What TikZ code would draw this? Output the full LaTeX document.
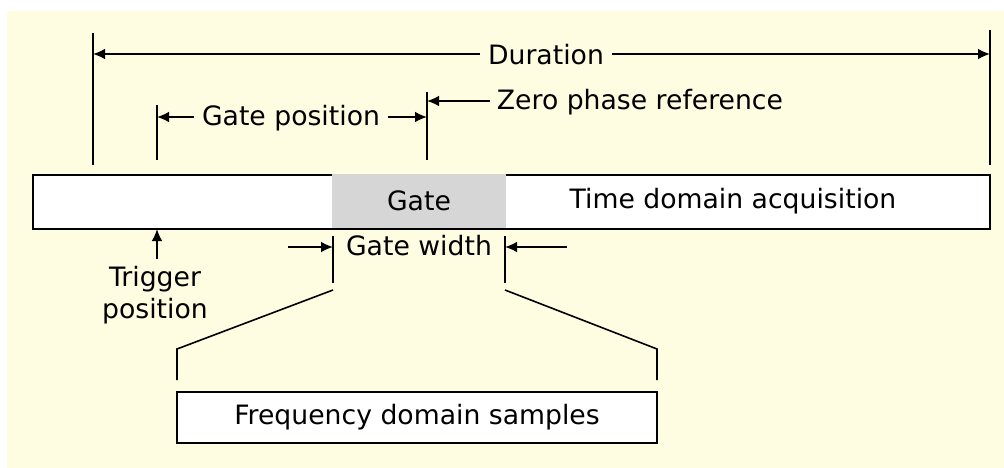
\documentclass[tikz,border=0pt]{standalone}
\usepackage{fontspec}
\setmainfont{DejaVu Sans}
\usetikzlibrary{arrows.meta}
\definecolor{cream}{RGB}{255,253,225}
\definecolor{gategray}{RGB}{214,214,214}
\begin{document}
\begin{tikzpicture}[x=0.75pt,y=-0.75pt,
  ln/.style={line width=1.2pt,black},
  dim/.style={ln,-{Latex[length=9pt,width=8pt]}},
  lbl/.style={inner sep=2pt,font=\fontsize{20}{24}\selectfont},
  boxed/.style={draw,line width=1.3pt,inner sep=0pt}]
\useasboundingbox (0,0) rectangle (1004,468);
\fill[cream] (7,11) rectangle (1004,468);
% main bar
\node[boxed,fill=white,minimum width=957*0.75pt,minimum height=54*0.75pt] (bar) at (511.5,202) {};
\fill[gategray] (332,174) rectangle (506,227.5);
\node[lbl] (gate) at (419,201) {Gate};
\node[lbl] (tda) at (733,201) {Time domain acquisition};
% extension lines
\coordinate (dL0) at (93,33); \coordinate (dL1) at (93,165);
\coordinate (dR0) at (990,30); \coordinate (dR1) at (990,165);
\coordinate (gp0) at (157,105); \coordinate (gp1) at (157,160);
\coordinate (zp0) at (427,92); \coordinate (zp1) at (427,160);
\draw[ln] (dL0) -- (dL1);
\draw[ln] (dR0) -- (dR1);
\draw[ln] (gp0) -- (gp1);
\draw[ln] (zp0) -- (zp1);
% Duration
\node[lbl,inner sep=6pt] (dur) at (546,55) {Duration};
\coordinate (durL) at (93,54); \coordinate (durR) at (990,54);
\draw[dim] (dur.west |- durL) -- (durL);
\draw[dim] (dur.east |- durR) -- (durR);
% Gate position
\node[lbl,inner sep=6pt] (gpos) at (291,118) {Gate position};
\coordinate (gpL) at (157,117); \coordinate (gpR) at (427,117);
\draw[dim] (gpos.west |- gpL) -- (gpL);
\draw[dim] (gpos.east |- gpR) -- (gpR);
% Zero phase reference
\node[lbl,anchor=west,inner sep=5pt] (zpr) at (490,102) {Zero phase reference};
\coordinate (zpL) at (427,101);
\draw[dim] (zpr.west |- zpL) -- (zpL);
% Trigger
\node[lbl,align=center,font=\fontsize{20}{23.5}\selectfont] (trig) at (155,295) {Trigger\\position};
\coordinate (trigT) at (157,229); \coordinate (trigB) at (157,259);
\draw[dim] (trigB) -- (trigT);
% Gate width
\node[lbl] (gw) at (419,246) {Gate width};
\coordinate (gwL0) at (288,247); \coordinate (gwL) at (333,247);
\coordinate (gwR0) at (567,247); \coordinate (gwR) at (505,247);
\draw[dim] (gwL0) -- (gwL);
\draw[dim] (gwR0) -- (gwR);
\coordinate (gwa0) at (333,236); \coordinate (gwa1) at (333,283);
\coordinate (gwb0) at (505,236); \coordinate (gwb1) at (505,283);
\draw[ln] (gwa0) -- (gwa1);
\draw[ln] (gwb0) -- (gwb1);
% Frequency domain box
\node[boxed,fill=white,minimum width=480*0.75pt,minimum height=51*0.75pt] (fds) at (417,417.5) {};
\node[lbl] (fdst) at (417,417) {Frequency domain samples};
\coordinate (sl0) at (333,290); \coordinate (sl1) at (177,349); \coordinate (sl2) at (177,380);
\coordinate (sr0) at (505,290); \coordinate (sr1) at (657,349); \coordinate (sr2) at (657,380);
\draw[ln] (sl0) -- (sl1) -- (sl2);
\draw[ln] (sr0) -- (sr1) -- (sr2);
\end{tikzpicture}
\end{document}
